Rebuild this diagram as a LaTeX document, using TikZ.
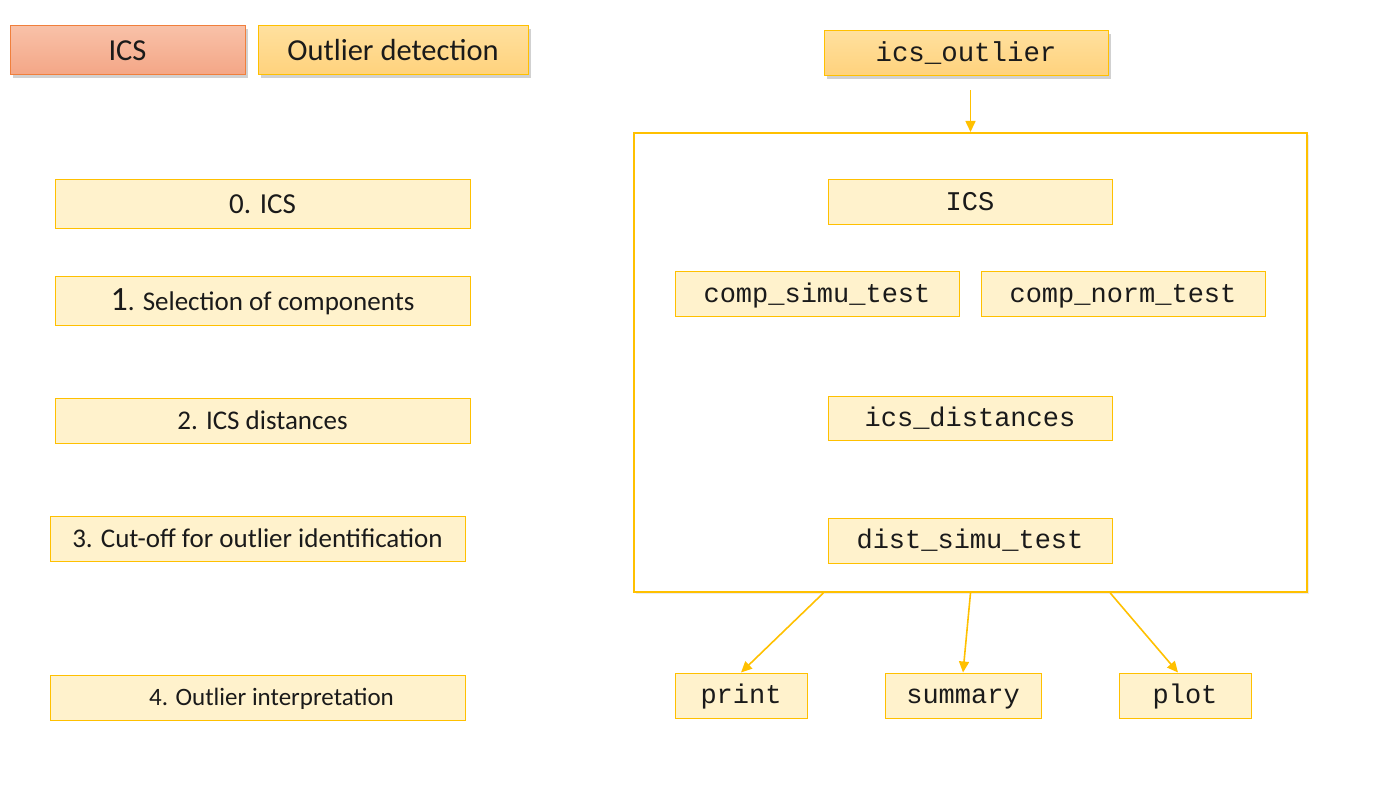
\documentclass[tikz,border=0pt]{standalone}
\usepackage{fontspec}
\setmainfont{Carlito}
\setmonofont{Liberation Mono}
\usetikzlibrary{arrows.meta,shadows,calc}
\definecolor{gold}{HTML}{FFC000}
\definecolor{lightfill}{HTML}{FFF2CC}
\definecolor{hdrtop}{HTML}{FFE09E}
\definecolor{hdrbot}{HTML}{FFD27C}
\definecolor{salmtop}{HTML}{F8C1A8}
\definecolor{salmbot}{HTML}{F4A686}
\definecolor{salmline}{HTML}{F07F3C}
\definecolor{txt}{HTML}{1A1A1A}
\tikzset{
  shad/.style={drop shadow={shadow xshift=3pt,shadow yshift=-3pt,opacity=0.3,fill=black!60}},
  stepbox/.style={draw=gold,fill=lightfill,line width=1pt,inner sep=0pt,text=txt,
    text height=17.4pt,text depth=0pt,font=\fontsize{27}{31}\selectfont},
  fnbox/.style={draw=gold,fill=lightfill,line width=1pt,inner sep=0pt,text=txt,
    text height=16pt,text depth=0pt,font=\ttfamily\fontsize{27}{31}\selectfont},
  hdrbox/.style={draw=gold,line width=1pt,top color=hdrtop,bottom color=hdrbot,inner sep=0pt,text=txt,shad},
  salmbox/.style={draw=salmline,line width=1pt,top color=salmtop,bottom color=salmbot,inner sep=0pt,text=txt,shad},
  arr/.style={draw=gold,line width=1.6pt,-{Triangle[width=10pt,length=11pt]}},
}
\begin{document}
\begin{tikzpicture}[x=1pt,y=-1pt]
\useasboundingbox (0,0) rectangle (1395,802);
% headers
\node[salmbox,minimum width=235,minimum height=49,text height=19.6pt,text depth=0pt,font=\fontsize{30.5}{35}\selectfont] (hics) at (127.5,50.5) {ICS};
\node[hdrbox,minimum width=270,minimum height=49,text height=19.6pt,text depth=0pt,font=\fontsize{30.5}{35}\selectfont] (hout) at (393,50.5) {Outlier detection};
% steps
\node[stepbox,minimum width=415,minimum height=49,text height=18.7pt,font=\fontsize{29}{33}\selectfont] (s0) at (262.5,204.5) {0. ICS};
\node[stepbox,minimum width=415,minimum height=49] (s1) at (262.5,301.5) {{\fontsize{34}{38}\selectfont 1}. Selection of components};
\node[stepbox,minimum width=415,minimum height=45] (s2) at (262.5,420.5) {2. ICS distances};
\node[stepbox,minimum width=415,minimum height=45] (s3) at (257.5,538.5) {3. Cut-off for outlier identification};
\node[stepbox,minimum width=415,minimum height=45,text height=16.1pt,font=\fontsize{25}{29}\selectfont] (s4) at (257.5,697.5) {\hspace*{28pt}4. Outlier interpretation};
% right side
\node[hdrbox,minimum width=284,minimum height=45,text height=16pt,text depth=0pt,font=\ttfamily\fontsize{27.4}{31}\selectfont] (out) at (966,53.5) {ics\_outlier};
\node[draw=gold,line width=2pt,fill=white,minimum width=673,minimum height=459,inner sep=0pt,
  drop shadow={shadow xshift=2pt,shadow yshift=-2pt,opacity=0.15,fill=black!50}] (frame) at (970.5,362.5) {};
\node[fnbox,minimum width=284,minimum height=45] (fics) at (970,202.5) {ICS};
\node[fnbox,minimum width=284,minimum height=45] (cst) at (817,294.5) {comp\_simu\_test};
\node[fnbox,minimum width=284,minimum height=45] (cnt) at (1123,294.5) {comp\_norm\_test};
\node[fnbox,minimum width=284,minimum height=44] (idist) at (970,418) {ics\_distances};
\node[fnbox,minimum width=284,minimum height=45] (dst) at (970,540.5) {dist\_simu\_test};
\node[fnbox,minimum width=132,minimum height=45] (print) at (741,695.5) {print};
\node[fnbox,minimum width=156,minimum height=45] (summary) at (963,695.5) {summary};
\node[fnbox,minimum width=132,minimum height=45] (plot) at (1185,695.5) {plot};
% arrows
\draw[arr,shorten <=14pt] (out.south -| frame.north) -- (frame.north);
\coordinate (b1) at ($(frame.south west)!0.282!(frame.south east)$);
\coordinate (b3) at ($(frame.south west)!0.707!(frame.south east)$);
\draw[arr] (b1) -- (print.north);
\draw[arr] (frame.south) -- (summary.north);
\draw[arr] (b3) -- ($(plot.north)+(-7,0)$);
\end{tikzpicture}
\end{document}
